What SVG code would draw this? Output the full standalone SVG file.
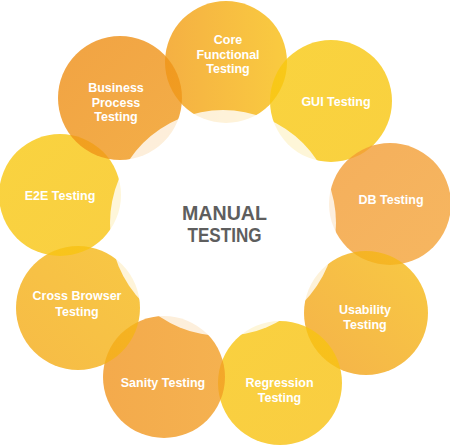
<svg xmlns="http://www.w3.org/2000/svg" width="450" height="446" viewBox="0 0 450 446">
<defs>
<style>
.c{fill-opacity:0.8}
.t{font-family:"Liberation Sans",Arial,sans-serif;font-weight:bold;font-size:12.5px;fill:#ffffff;text-anchor:middle}
.m{font-family:"Liberation Sans",Arial,sans-serif;font-weight:bold;font-size:20px;fill:#5e5e5e;text-anchor:middle}
</style>
<linearGradient id="gCore" x1="0" y1="0.5" x2="1" y2="0.5"><stop offset="0" stop-color="#F29C14"/><stop offset="1" stop-color="#F8BE10"/></linearGradient>
<linearGradient id="gGui" x1="0" y1="0" x2="1" y2="1"><stop offset="0" stop-color="#F8C80E"/><stop offset="1" stop-color="#F8C50F"/></linearGradient>
<linearGradient id="gDb" x1="0" y1="0" x2="1" y2="1"><stop offset="0" stop-color="#F29B33"/><stop offset="1" stop-color="#F4A438"/></linearGradient>
<linearGradient id="gUse" x1="0" y1="1" x2="1" y2="0"><stop offset="0" stop-color="#F29F1C"/><stop offset="1" stop-color="#F6BC14"/></linearGradient>
<linearGradient id="gReg" x1="0" y1="0" x2="1" y2="1"><stop offset="0" stop-color="#F8C50F"/><stop offset="1" stop-color="#F8C112"/></linearGradient>
<linearGradient id="gSan" x1="0" y1="0.5" x2="1" y2="0.5"><stop offset="0" stop-color="#F1951F"/><stop offset="1" stop-color="#F29E24"/></linearGradient>
<linearGradient id="gCross" x1="0" y1="1" x2="1" y2="0"><stop offset="0" stop-color="#F4AA18"/><stop offset="1" stop-color="#F6BA15"/></linearGradient>
<linearGradient id="gE2e" x1="0" y1="0" x2="1" y2="1"><stop offset="0" stop-color="#F8C80F"/><stop offset="1" stop-color="#F8C312"/></linearGradient>
<linearGradient id="gBiz" x1="0" y1="0" x2="1" y2="1"><stop offset="0" stop-color="#EE8C14"/><stop offset="1" stop-color="#F09A1A"/></linearGradient>
</defs>
<rect width="450" height="446" fill="#ffffff"/>
<g id="connectors"/>
<g id="node-core">
<circle class="c" cx="226" cy="62" r="61" fill="url(#gCore)"/>
<text class="t" x="228" y="44">Core</text>
<text class="t" x="228" y="58.5">Functional</text>
<text class="t" x="228" y="73">Testing</text>
</g>
<g id="node-gui">
<circle class="c" cx="331" cy="101" r="61" fill="url(#gGui)"/>
<text class="t" x="336" y="106">GUI Testing</text>
</g>
<g id="node-db">
<circle class="c" cx="390" cy="204" r="61" fill="url(#gDb)"/>
<text class="t" x="391" y="204">DB Testing</text>
</g>
<g id="node-usability">
<circle class="c" cx="366" cy="313" r="62" fill="url(#gUse)"/>
<text class="t" x="365" y="314">Usability</text>
<text class="t" x="365" y="329">Testing</text>
</g>
<g id="node-regression">
<circle class="c" cx="280" cy="383" r="62" fill="url(#gReg)"/>
<text class="t" x="279.5" y="387">Regression</text>
<text class="t" x="279.5" y="402">Testing</text>
</g>
<g id="node-sanity">
<circle class="c" cx="164" cy="377" r="61" fill="url(#gSan)"/>
<text class="t" x="163" y="387">Sanity Testing</text>
</g>
<g id="node-crossbrowser">
<circle class="c" cx="78" cy="308" r="62" fill="url(#gCross)"/>
<text class="t" x="77" y="300">Cross Browser</text>
<text class="t" x="77" y="315.5">Testing</text>
</g>
<g id="node-e2e">
<circle class="c" cx="60" cy="195" r="61" fill="url(#gE2e)"/>
<text class="t" x="60" y="200">E2E Testing</text>
</g>
<g id="node-business">
<circle class="c" cx="120" cy="98" r="62" fill="url(#gBiz)"/>
<text class="t" x="116" y="92">Business</text>
<text class="t" x="116" y="106.5">Process</text>
<text class="t" x="116" y="121">Testing</text>
</g>
<g id="node-manual">
<circle cx="223" cy="223" r="113" fill="#ffffff" fill-opacity="0.8"/>
<text class="m" x="224.5" y="220" textLength="85" lengthAdjust="spacingAndGlyphs">MANUAL</text>
<text class="m" x="224.5" y="242" textLength="74" lengthAdjust="spacingAndGlyphs">TESTING</text>
</g>
</svg>
